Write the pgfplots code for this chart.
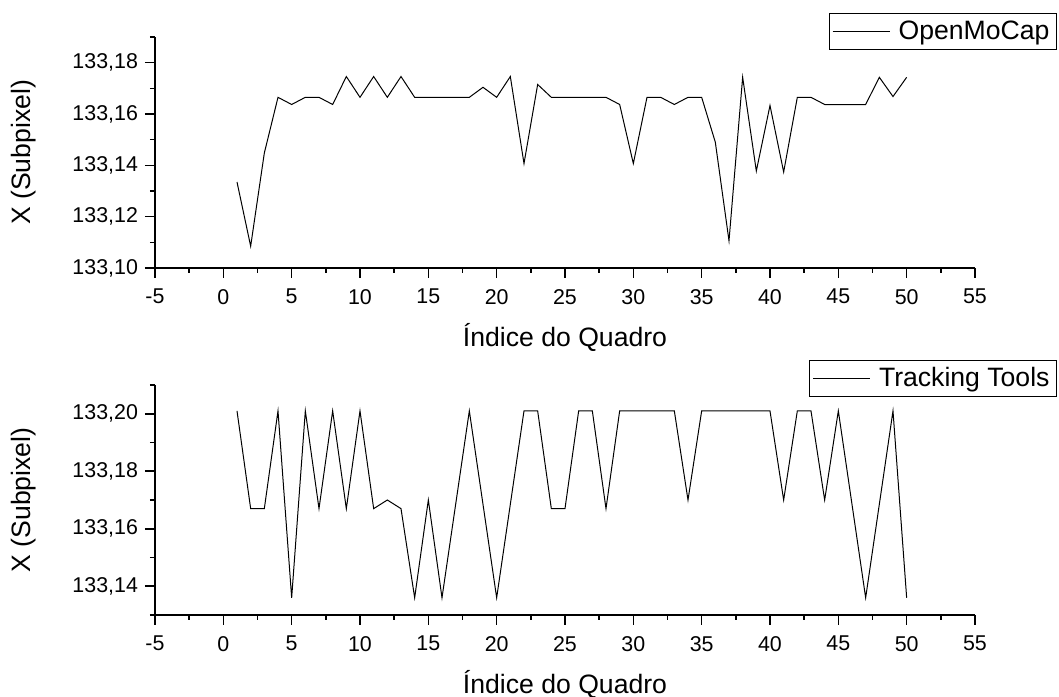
\documentclass[border=0pt]{standalone}
\usepackage{pgfplots}
\pgfplotsset{compat=1.18}
\usepackage{pgfplotstable}
\usepackage{fontspec}
\setmainfont{Liberation Sans}

\pgfplotstableread{
i y
1 133.1335
2 133.1085
3 133.1448
4 133.1665
5 133.1637
6 133.1665
7 133.1665
8 133.1637
9 133.1746
10 133.1665
11 133.1746
12 133.1665
13 133.1746
14 133.1665
15 133.1665
16 133.1665
17 133.1665
18 133.1665
19 133.1704
20 133.1665
21 133.1746
22 133.1407
23 133.1715
24 133.1665
25 133.1665
26 133.1665
27 133.1665
28 133.1665
29 133.1637
30 133.1407
31 133.1665
32 133.1665
33 133.1637
34 133.1665
35 133.1665
36 133.1490
37 133.1106
38 133.1743
39 133.1378
40 133.1633
41 133.1374
42 133.1665
43 133.1665
44 133.1637
45 133.1637
46 133.1637
47 133.1637
48 133.1743
49 133.1668
50 133.1743
}\openmocap

\pgfplotstableread{
i y
1 133.201
2 133.167
3 133.167
4 133.201
5 133.136
6 133.201
7 133.167
8 133.201
9 133.167
10 133.201
11 133.167
12 133.170
13 133.167
14 133.136
15 133.170
16 133.136
17 133.1685
18 133.201
19 133.1685
20 133.136
21 133.1685
22 133.201
23 133.201
24 133.167
25 133.167
26 133.201
27 133.201
28 133.167
29 133.201
30 133.201
31 133.201
32 133.201
33 133.201
34 133.170
35 133.201
36 133.201
37 133.201
38 133.201
39 133.201
40 133.201
41 133.170
42 133.201
43 133.201
44 133.170
45 133.201
46 133.1685
47 133.136
48 133.1685
49 133.201
50 133.136
}\tracking

\pgfplotsset{
  myaxis/.style={
    scale only axis,
    width=410pt,
    xmin=-5, xmax=55,
    xtick={-5,0,...,55},
    minor xtick={-2.5,2.5,...,52.5},
    axis lines=left,
    axis line style={-, line width=1pt},
    tick align=outside,
    major tick length=5pt,
    minor tick length=2.5pt,
    every tick/.style={black, line width=0.8pt},
    /pgf/number format/assume math mode=true,
    tick label style={font=\fontsize{10.7}{12}\selectfont},
    xticklabel style={yshift=-2pt},
    label style={font=\fontsize{13.3}{15}\selectfont},
    xlabel={Índice do Quadro},
    ylabel={X (Subpixel)},
    xlabel style={at={(axis description cs:0.5,-0.30)}, anchor=center},
    ylabel style={at={(axis description cs:-0.16,0.5)}, anchor=center, rotate=0},
    yticklabel style={/pgf/number format/.cd, fixed, fixed zerofill, precision=2, use comma},
    legend style={draw=black, line width=0.5pt, font=\fontsize{13.3}{15}\selectfont, inner sep=1.5pt, anchor=north east, cells={anchor=west}},
    legend image code/.code={\draw[#1, line width=0.5pt] (1.5pt,0pt) -- (30pt,0pt);},
  }
}

\begin{document}
\begin{tikzpicture}
\path[use as bounding box] (0,0) rectangle (529.5pt,348pt);
\begin{axis}[myaxis,
  at={(77.5pt,214pt)}, anchor=south west,
  height=115.5pt,
  ymin=133.10, ymax=133.19,
  ytick={133.10,133.12,133.14,133.16,133.18},
  minor ytick={133.11,133.13,133.15,133.17,133.19},
  legend style={at={(axis description cs:1.1,1.104)}},
]
\addplot[black, line width=0.5pt] table[x=i, y=y] {\openmocap};
\addlegendentry{\,OpenMoCap}
\end{axis}
\begin{axis}[myaxis,
  at={(77.5pt,40.5pt)}, anchor=south west,
  height=115pt,
  ymin=133.13, ymax=133.21,
  ytick={133.14,133.16,133.18,133.20},
  minor ytick={133.13,133.15,133.17,133.19,133.21},
  legend style={at={(axis description cs:1.1,1.109)}},
]
\addplot[black, line width=0.5pt] table[x=i, y=y] {\tracking};
\addlegendentry{\,Tracking Tools}
\end{axis}
\end{tikzpicture}
\end{document}
